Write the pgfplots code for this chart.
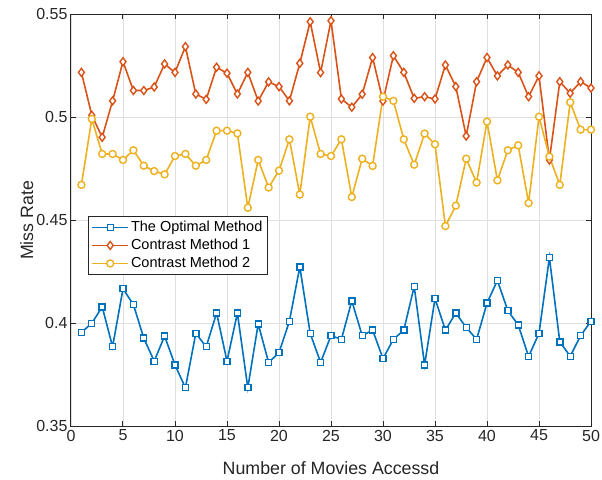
\documentclass[border=0pt]{standalone}
\usepackage{pgfplots}
\pgfplotsset{compat=1.18}
\usepackage{fontspec}
\setmainfont{Liberation Sans}

\definecolor{mblue}{rgb}{0,0.447,0.741}
\definecolor{morange}{rgb}{0.85,0.325,0.098}
\definecolor{myellow}{rgb}{0.929,0.694,0.125}
\definecolor{axgray}{rgb}{0.15,0.15,0.15}

\begin{document}
\begin{tikzpicture}
\begin{axis}[
  name=ax,
  scale only axis,
  width=520pt, height=412pt,
  xmin=0, xmax=50, ymin=0.35, ymax=0.55,
  xtick={0,5,...,50},
  ytick={0.35,0.4,0.45,0.5,0.55},
  yticklabels={0.35,0.4,0.45,0.5,0.55},
  grid=major,
  major grid style={gray!25, line width=0.8pt},
  axis line style={axgray, line width=1pt},
  tick style={axgray, line width=1pt},
  major tick length=5pt,
  tick pos=both,
  tick align=inside,
  ticklabel style={font=\fontsize{16}{19}\selectfont, text=axgray},
  /pgf/number format/assume math mode=true,
  xlabel={Number of Movies Accessd},
  ylabel={Miss Rate},
  label style={font=\fontsize{17.8}{21}\selectfont, text=axgray},
  xlabel style={at={(axis description cs:0.5,-0.102)}, anchor=center},
  ylabel style={at={(axis description cs:-0.085,0.5)}, anchor=center},
  legend style={at={(0.0327,0.5104)}, anchor=north west,
    draw=axgray, line width=0.8pt, fill=white,
    font=\fontsize{14.5}{17}\selectfont, text=black,
    inner xsep=3pt, inner ysep=3pt, row sep=2pt},
  legend cell align={left},
  legend image code/.code={
    \draw[line width=1.6pt, mark repeat=2, mark phase=2] plot coordinates {(0pt,0pt) (18pt,0pt) (36pt,0pt)};},
]
\addplot[color=mblue, line width=1.6pt, mark=square*, mark size=3pt, mark options={fill=white, line width=1.4pt}]
  coordinates {(1,0.3956) (2,0.4000) (3,0.4080) (4,0.3886) (5,0.4168) (6,0.4091) (7,0.3928) (8,0.3816) (9,0.3938) (10,0.3798)
  (11,0.3687) (12,0.3951) (13,0.3886) (14,0.4050) (15,0.3816) (16,0.4050) (17,0.3687) (18,0.3997) (19,0.3810) (20,0.3857)
  (21,0.4010) (22,0.4274) (23,0.3951) (24,0.3810) (25,0.3940) (26,0.3922) (27,0.4109) (28,0.3940) (29,0.3967) (30,0.3829)
  (31,0.3922) (32,0.3967) (33,0.4179) (34,0.3798) (35,0.4120) (36,0.3967) (37,0.4050) (38,0.3980) (39,0.3922) (40,0.4098)
  (41,0.4208) (42,0.4062) (43,0.3992) (44,0.3839) (45,0.3951) (46,0.4319) (47,0.3910) (48,0.3840) (49,0.3940) (50,0.4010)};
\addlegendentry{The Optimal Method}
\addplot[color=morange, line width=1.6pt, mark=diamond*, mark size=4pt, mark options={fill=white, line width=1.4pt}]
  coordinates {(1,0.5218) (2,0.5010) (3,0.4903) (4,0.5080) (5,0.5270) (6,0.5130) (7,0.5130) (8,0.5147) (9,0.5259) (10,0.5218)
  (11,0.5343) (12,0.5113) (13,0.5087) (14,0.5243) (15,0.5214) (16,0.5113) (17,0.5218) (18,0.5079) (19,0.5172) (20,0.5149)
  (21,0.5080) (22,0.5262) (23,0.5464) (24,0.5217) (25,0.5469) (26,0.5089) (27,0.5049) (28,0.5112) (29,0.5290) (30,0.5079)
  (31,0.5299) (32,0.5218) (33,0.5092) (34,0.5100) (35,0.5089) (36,0.5254) (37,0.5149) (38,0.4909) (39,0.5173) (40,0.5290)
  (41,0.5201) (42,0.5254) (43,0.5218) (44,0.5100) (45,0.5201) (46,0.4793) (47,0.5173) (48,0.5117) (49,0.5173) (50,0.5142)};
\addlegendentry{Contrast Method 1}
\addplot[color=myellow, line width=1.6pt, mark=*, mark size=3.5pt, mark options={fill=white, line width=1.4pt}]
  coordinates {(1,0.4672) (2,0.4992) (3,0.4822) (4,0.4822) (5,0.4793) (6,0.4840) (7,0.4765) (8,0.4739) (9,0.4723) (10,0.4812)
  (11,0.4822) (12,0.4765) (13,0.4793) (14,0.4935) (15,0.4935) (16,0.4922) (17,0.4561) (18,0.4793) (19,0.4659) (20,0.4741)
  (21,0.4893) (22,0.4625) (23,0.5003) (24,0.4822) (25,0.4812) (26,0.4893) (27,0.4613) (28,0.4799) (29,0.4764) (30,0.5100)
  (31,0.5080) (32,0.4893) (33,0.4770) (34,0.4921) (35,0.4869) (36,0.4472) (37,0.4571) (38,0.4799) (39,0.4683) (40,0.4979)
  (41,0.4694) (42,0.4840) (43,0.4864) (44,0.4584) (45,0.5003) (46,0.4809) (47,0.4672) (48,0.5073) (49,0.4940) (50,0.4940)};
\addlegendentry{Contrast Method 2}
\end{axis}
\pgfresetboundingbox
\path[use as bounding box] ([shift={(-71pt,-53pt)}]ax.south west) rectangle ([shift={(531pt,426.3pt)}]ax.south west);
\end{tikzpicture}
\end{document}
